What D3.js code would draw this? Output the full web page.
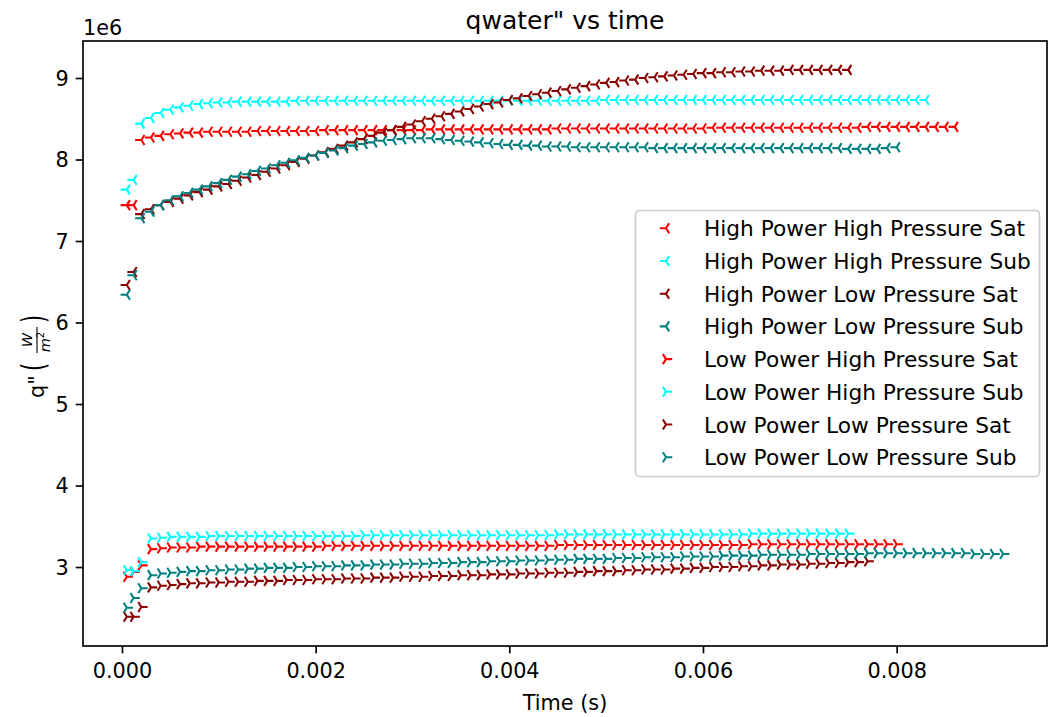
<!DOCTYPE html>
<html><head><meta charset="utf-8">
<script src="https://cdn.jsdelivr.net/npm/d3@7"></script>
<style>body{margin:0;background:#fff} svg{display:block} text{font-family:"DejaVu Sans",sans-serif;fill:#000}</style>
</head><body><svg id="c" width="1049" height="717"></svg>
<script>
// time samples (s)
const timeGrid = [0.00005,0.00012,0.0002,0.0003,0.0004,0.0005,0.0006,0.0007,0.0008,0.0009,
 0.0010,0.0011,0.0012,0.0013,0.0014,0.0015,0.0016,0.0017,0.0018,0.0019,
 0.0020,0.0021,0.0022,0.0023,0.0024,0.0025,0.0026,0.0027,0.0028,0.0029,
 0.0030,0.0031,0.0032,0.0033,0.0034,0.0035,0.0036,0.0037,0.0038,0.0039,
 0.0040,0.0041,0.0042,0.0043,0.0044,0.0045,0.0046,0.0047,0.0048,0.0049,
 0.0050,0.0051,0.0052,0.0053,0.0054,0.0055,0.0056,0.0057,0.0058,0.0059,
 0.0060,0.0061,0.0062,0.0063,0.0064,0.0065,0.0066,0.0067,0.0068,0.0069,
 0.0070,0.0071,0.0072,0.0073,0.0074,0.0075,0.0076,0.0077,0.0078,0.0079,
 0.0080,0.0081,0.0082,0.0083,0.0084,0.0085,0.0086,0.0087,0.0088,0.0089,
 0.0090,0.0091];

// q'' values in units of 1e6 W/m^2
const hpHpSat = [7.44,7.44,8.24,8.27,8.29,8.31,8.32,8.33,8.33,8.34,
 8.34,8.34,8.34,8.34,8.35,8.35,8.35,8.35,8.35,8.35,
 8.35,8.36,8.36,8.36,8.36,8.36,8.36,8.36,8.36,8.36,
 8.36,8.36,8.37,8.37,8.37,8.37,8.37,8.37,8.37,8.37,
 8.37,8.37,8.37,8.37,8.37,8.38,8.38,8.38,8.38,8.38,
 8.38,8.38,8.38,8.38,8.38,8.38,8.38,8.38,8.38,8.38,
 8.38,8.39,8.39,8.39,8.39,8.39,8.39,8.39,8.39,8.39,
 8.39,8.39,8.39,8.39,8.39,8.39,8.39,8.40,8.40,8.40,
 8.40,8.40,8.40,8.40,8.40,8.40,8.40];
const hpHpSub = [7.63,7.75,8.44,8.51,8.57,8.61,8.64,8.66,8.68,8.69,
 8.70,8.70,8.71,8.71,8.71,8.71,8.71,8.71,8.72,8.72,
 8.72,8.72,8.72,8.72,8.72,8.72,8.72,8.72,8.72,8.72,
 8.72,8.72,8.72,8.72,8.72,8.72,8.72,8.72,8.72,8.72,
 8.72,8.72,8.72,8.72,8.72,8.72,8.72,8.72,8.72,8.72,
 8.73,8.73,8.73,8.73,8.73,8.73,8.73,8.73,8.73,8.73,
 8.73,8.73,8.73,8.73,8.73,8.73,8.73,8.73,8.73,8.73,
 8.73,8.73,8.73,8.73,8.73,8.73,8.73,8.73,8.73,8.73,
 8.73,8.73,8.73,8.73];
const hpLpSat = [6.46,6.62,7.33,7.39,7.44,7.48,7.52,7.56,7.60,7.63,
 7.67,7.70,7.74,7.78,7.81,7.85,7.89,7.93,7.97,8.01,
 8.05,8.09,8.13,8.17,8.21,8.25,8.29,8.33,8.36,8.40,
 8.43,8.47,8.50,8.53,8.56,8.59,8.62,8.65,8.68,8.70,
 8.73,8.75,8.78,8.80,8.82,8.84,8.86,8.88,8.90,8.92,
 8.94,8.95,8.97,8.98,9.00,9.01,9.02,9.03,9.04,9.05,
 9.06,9.06,9.07,9.07,9.08,9.08,9.09,9.09,9.09,9.10,
 9.10,9.10,9.10,9.10,9.10,9.10];
const hpLpSub = [6.34,6.58,7.28,7.36,7.44,7.50,7.55,7.59,7.63,7.67,
 7.71,7.75,7.79,7.82,7.86,7.89,7.93,7.96,7.99,8.02,
 8.05,8.08,8.11,8.14,8.17,8.19,8.21,8.23,8.24,8.25,
 8.26,8.26,8.26,8.25,8.24,8.23,8.22,8.21,8.20,8.19,
 8.18,8.18,8.17,8.17,8.16,8.16,8.16,8.15,8.15,8.15,
 8.15,8.15,8.15,8.15,8.15,8.14,8.14,8.14,8.14,8.14,
 8.14,8.14,8.14,8.14,8.14,8.14,8.14,8.14,8.14,8.14,
 8.14,8.14,8.14,8.14,8.14,8.13,8.13,8.13,8.13,8.14,
 8.15];
const lpHpSat = [2.88,2.94,3.02,3.22,3.23,3.24,3.24,3.24,3.25,3.25,
 3.25,3.25,3.25,3.25,3.25,3.25,3.25,3.25,3.25,3.25,
 3.25,3.26,3.26,3.26,3.26,3.26,3.26,3.26,3.26,3.26,
 3.26,3.26,3.26,3.26,3.26,3.26,3.26,3.26,3.26,3.26,
 3.26,3.26,3.26,3.26,3.26,3.27,3.27,3.27,3.27,3.27,
 3.27,3.27,3.27,3.27,3.27,3.27,3.27,3.27,3.27,3.27,
 3.27,3.27,3.27,3.27,3.27,3.28,3.28,3.28,3.28,3.28,
 3.28,3.28,3.28,3.28,3.28,3.28,3.28,3.28,3.28,3.28,
 3.28];
const lpHpSub = [2.96,2.95,3.06,3.35,3.36,3.37,3.37,3.37,3.37,3.38,
 3.38,3.38,3.38,3.38,3.38,3.38,3.38,3.38,3.38,3.38,
 3.38,3.38,3.38,3.38,3.38,3.39,3.39,3.39,3.39,3.39,
 3.39,3.39,3.39,3.39,3.39,3.39,3.39,3.39,3.39,3.39,
 3.39,3.39,3.39,3.39,3.39,3.40,3.40,3.40,3.40,3.40,
 3.40,3.40,3.40,3.40,3.40,3.40,3.40,3.40,3.40,3.40,
 3.40,3.40,3.40,3.40,3.40,3.41,3.41,3.41,3.41,3.41,
 3.41,3.41,3.41,3.41,3.41,3.41];
const lpLpSat = [2.39,2.39,2.51,2.75,2.77,2.78,2.79,2.80,2.80,2.81,
 2.81,2.82,2.82,2.82,2.83,2.83,2.83,2.84,2.84,2.84,
 2.85,2.85,2.85,2.86,2.86,2.86,2.87,2.87,2.87,2.88,
 2.88,2.88,2.89,2.89,2.89,2.90,2.90,2.90,2.91,2.91,
 2.91,2.92,2.92,2.92,2.93,2.93,2.93,2.94,2.94,2.95,
 2.95,2.95,2.96,2.96,2.97,2.97,2.97,2.98,2.98,2.99,
 2.99,3.00,3.00,3.00,3.01,3.01,3.02,3.02,3.03,3.03,
 3.03,3.04,3.04,3.05,3.05,3.06,3.06,3.07];
const lpLpSub = [2.50,2.62,2.74,2.90,2.92,2.93,2.94,2.95,2.95,2.96,
 2.96,2.97,2.97,2.98,2.98,2.99,2.99,2.99,3.00,3.00,
 3.01,3.01,3.01,3.02,3.02,3.02,3.03,3.03,3.03,3.04,
 3.04,3.04,3.05,3.05,3.05,3.06,3.06,3.06,3.07,3.07,
 3.07,3.08,3.08,3.08,3.09,3.09,3.09,3.10,3.10,3.10,
 3.10,3.11,3.11,3.11,3.12,3.12,3.12,3.12,3.13,3.13,
 3.13,3.13,3.14,3.14,3.14,3.14,3.15,3.15,3.15,3.15,
 3.15,3.16,3.16,3.16,3.16,3.16,3.16,3.17,3.17,3.17,
 3.17,3.17,3.17,3.17,3.17,3.17,3.17,3.17,3.16,3.16,
 3.16,3.16];

const seriesNames = ["High Power High Pressure Sat","High Power High Pressure Sub",
 "High Power Low Pressure Sat","High Power Low Pressure Sub",
 "Low Power High Pressure Sat","Low Power High Pressure Sub",
 "Low Power Low Pressure Sat","Low Power Low Pressure Sub"];
const seriesValues = [hpHpSat,hpHpSub,hpLpSat,hpLpSub,lpHpSat,lpHpSub,lpLpSat,lpLpSub];
const seriesColors = ["#ff0000","#00ffff","#8b0000","#008080","#ff0000","#00ffff","#8b0000","#008080"];
const seriesMarker = ["left","left","left","left","right","right","right","right"];
const xTicks = [0,0.002,0.004,0.006,0.008];
const yTicks = [3,4,5,6,7,8,9];

const svg = d3.select("#c");
const L = 83, R = 1047, T = 41, B = 646;
const x = d3.scaleLinear().domain([-0.0004025, 0.0095525]).range([L, R]);
const y = d3.scaleLinear().domain([2.031e6, 9.454e6]).range([B, T]);

const rM = 6.25, mw = 2.08;
function markerPath(kind){
  const s = kind === "left" ? 1 : -1;
  return `M0,0H${-s*rM}M0,0L${s*0.5*rM},${-0.8*rM}M0,0L${s*0.5*rM},${0.8*rM}`;
}

// markers
const gData = svg.append("g");
seriesValues.forEach((vals,i)=>{
  const pts = vals.map((v,k)=>({t:timeGrid[k], v:v*1e6}));
  gData.append("g").selectAll("path").data(pts).join("path")
    .attr("d", markerPath(seriesMarker[i]))
    .attr("transform", d=>`translate(${x(d.t)},${y(d.v)})`)
    .attr("fill","none").attr("stroke", seriesColors[i]).attr("stroke-width", mw)
    .attr("stroke-linecap","butt");
});

// axes
const fs = 20.8;
const xAxis = d3.axisBottom(x).tickValues(xTicks).tickFormat(d3.format(".3f")).tickSize(7.3).tickPadding(7);
const yAxis = d3.axisLeft(y).tickValues(yTicks.map(v=>v*1e6)).tickFormat(d=>String(Math.round(d/1e6))).tickSize(7.3).tickPadding(7);
const gx = svg.append("g").attr("transform",`translate(0,${B})`).call(xAxis);
const gy = svg.append("g").attr("transform",`translate(${L},0)`).call(yAxis);
[gx,gy].forEach(g=>{
  g.select(".domain").remove();
  g.selectAll(".tick line").attr("stroke","#000").attr("stroke-width",1.67);
  g.selectAll(".tick text").attr("font-size",fs).attr("font-family","DejaVu Sans").attr("fill","#000");
});
gx.selectAll(".tick text").attr("dy",null).attr("y",32);
gy.selectAll(".tick text").attr("dy","0.35em");

// spines
svg.append("rect").attr("x",L).attr("y",T).attr("width",R-L).attr("height",B-T)
  .attr("fill","none").attr("stroke","#000").attr("stroke-width",1.67);

// title, labels
svg.append("text").attr("x",(L+R)/2).attr("y",28.5).attr("text-anchor","middle")
  .attr("font-size",25).text('qwater" vs time');
svg.append("text").attr("x",(L+R)/2).attr("y",710).attr("text-anchor","middle")
  .attr("font-size",fs).text("Time (s)");
svg.append("text").attr("x",83).attr("y",35).attr("font-size",fs).text("1e6");

// y label with math
const yl = svg.append("g").attr("transform","translate(44,340) rotate(-90)");
yl.append("text").attr("x",-58).attr("y",0).attr("font-size",fs).text('q"');
yl.append("text").attr("x",-31).attr("y",0).attr("font-size",fs)
  .attr("transform","translate(0,-6) scale(1,1.55) translate(0,4)").text("(");
yl.append("text").attr("x",0).attr("y",-12).attr("font-size",14.5).attr("font-style","italic")
  .attr("text-anchor","middle").text("W");
yl.append("line").attr("x1",-13).attr("x2",13).attr("y1",-7).attr("y2",-7).attr("stroke","#000").attr("stroke-width",1.1);
const mt = yl.append("text").attr("x",-2).attr("y",6).attr("font-size",14.5).attr("text-anchor","middle");
mt.append("tspan").attr("font-style","italic").text("m");
mt.append("tspan").attr("font-size",10).attr("dy",-6).text("2");
yl.append("text").attr("x",17).attr("y",0).attr("font-size",fs)
  .attr("transform","translate(0,-6) scale(1,1.55) translate(0,4)").text(")");

// legend
const lg = svg.append("g");
lg.append("rect").attr("x",635.5).attr("y",210.5).attr("width",404).attr("height",266).attr("rx",4)
  .attr("fill","#fff").attr("fill-opacity",0.8).attr("stroke","#cccccc").attr("stroke-width",1.6);
seriesNames.forEach((n,i)=>{
  const cy = 228.3 + i*32.7;
  lg.append("path").attr("d",markerPath(seriesMarker[i])).attr("transform",`translate(666,${cy})`)
    .attr("fill","none").attr("stroke",seriesColors[i]).attr("stroke-width",mw);
  lg.append("text").attr("x",704).attr("y",cy+8).attr("font-size",21.7).text(n);
});
</script></body></html>
